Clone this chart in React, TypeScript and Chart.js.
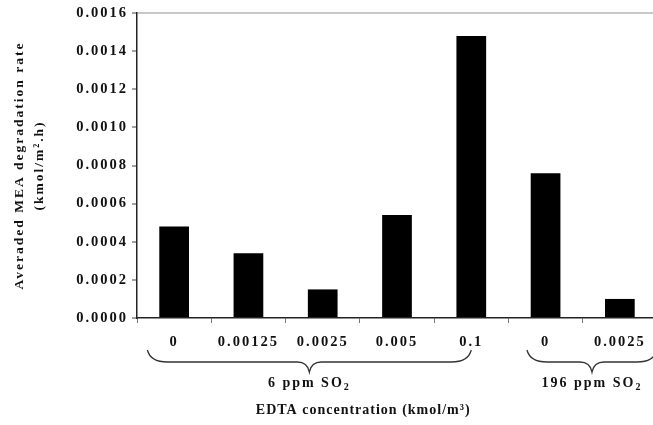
import React, { useEffect, useRef } from 'react';
import { Chart, registerables } from 'chart.js';

Chart.register(...registerables);

const categories = ['0', '0.00125', '0.0025', '0.005', '0.1', '0', '0.0025'];
const degradationRate = [0.00048, 0.00034, 0.00015, 0.00054, 0.00148, 0.00076, 0.0001];
const yTickValues = [0, 0.0002, 0.0004, 0.0006, 0.0008, 0.001, 0.0012, 0.0014, 0.0016];
const groupLabels = ['6 ppm SO', '196 ppm SO'];
const groupSubscripts = ['2', '2'];
const groupStart = [0, 5];
const groupEnd = [4, 6];
const yTitle = ['Averaded MEA degradation rate', '(kmol/m\u00b2.h)'];
const xTitle = 'EDTA concentration (kmol/m\u00b3)';

const FONT = "'Liberation Serif', 'Times New Roman', 'DejaVu Serif', serif";
const LS = '2px';
const TEXT = '#111';
const FS = 14;

// brace extents relative to category width (layout only)
const braceExt = [
  [0.36, 0.0],
  [0.25, 0.5],
];

function drawBrace(ctx: CanvasRenderingContext2D, x1: number, x2: number, yTop: number, yMid: number, yTip: number) {
  const r = 20;
  const tr = 12;
  const cx = (x1 + x2) / 2;
  ctx.beginPath();
  ctx.moveTo(x1, yTop);
  ctx.quadraticCurveTo(x1 + 3, yMid, x1 + r, yMid);
  ctx.lineTo(cx - tr, yMid);
  ctx.quadraticCurveTo(cx - 2, yMid, cx, yTip);
  ctx.quadraticCurveTo(cx + 2, yMid, cx + tr, yMid);
  ctx.lineTo(x2 - r, yMid);
  ctx.quadraticCurveTo(x2 - 3, yMid, x2, yTop);
  ctx.stroke();
}

function drawWithSubscript(ctx: CanvasRenderingContext2D, main: string, sub: string, cx: number, cy: number) {
  const mainFont = `bold ${FS}px ${FONT}`;
  const subFont = `bold ${FS - 4}px ${FONT}`;
  ctx.font = mainFont;
  const wm = ctx.measureText(main).width;
  ctx.font = subFont;
  const ws = ctx.measureText(sub).width;
  const left = cx - (wm + ws) / 2;
  ctx.textAlign = 'left';
  ctx.textBaseline = 'middle';
  ctx.font = mainFont;
  ctx.fillText(main, left, cy);
  ctx.font = subFont;
  ctx.fillText(sub, left + wm, cy + 4);
}

const annotationPlugin = {
  id: 'braceAnnotations',
  beforeLayout(chart: any) {
    chart.ctx.letterSpacing = LS;
  },
  beforeDraw(chart: any) {
    chart.ctx.letterSpacing = LS;
  },
  afterDraw(chart: any) {
    const { ctx, chartArea } = chart;
    const x = chart.scales.x;
    const w = x.width / categories.length;
    const bottom = chartArea.bottom;
    ctx.save();
    ctx.letterSpacing = LS;
    ctx.strokeStyle = '#333';
    ctx.lineWidth = 1.3;
    ctx.fillStyle = TEXT;
    groupLabels.forEach((label, i) => {
      const x1 = x.getPixelForValue(groupStart[i]) - w * braceExt[i][0];
      const x2 = x.getPixelForValue(groupEnd[i]) + w * braceExt[i][1];
      drawBrace(ctx, x1, x2, bottom + 32, bottom + 44, bottom + 54);
      drawWithSubscript(ctx, label, groupSubscripts[i], (x1 + x2) / 2, bottom + 65);
    });
    ctx.letterSpacing = '1px';
    ctx.font = `bold ${FS}px ${FONT}`;
    ctx.textAlign = 'center';
    ctx.textBaseline = 'middle';
    ctx.fillText(xTitle, chartArea.left + chartArea.width * 0.435, bottom + 92);
    ctx.restore();
  },
};

export default function App() {
  const ref = useRef<HTMLCanvasElement | null>(null);

  useEffect(() => {
    if (!ref.current) return;
    const chart = new Chart(ref.current, {
      type: 'bar',
      data: {
        labels: categories,
        datasets: [
          {
            data: degradationRate,
            backgroundColor: '#000',
            borderColor: '#222',
            borderWidth: 0,
            barPercentage: 0.4,
            categoryPercentage: 1,
          },
        ],
      },
      plugins: [annotationPlugin],
      options: {
        animation: false,
        responsive: true,
        maintainAspectRatio: false,
        layout: { padding: { left: 0, right: 3, top: 13, bottom: 0 } },
        plugins: {
          legend: { display: false },
          tooltip: { enabled: false },
        },
        scales: {
          x: {
            grid: {
              display: true,
              drawOnChartArea: false,
              offset: true,
              tickLength: 5,
              tickColor: '#777',
            },
            border: { display: true, color: '#222', width: 1.5 },
            ticks: {
              color: TEXT,
              font: { family: FONT, size: 14.5, weight: 'bold' },
              padding: 11,
              maxRotation: 0,
              autoSkip: false,
            },
            afterFit: (scale: any) => {
              scale.height = 107;
            },
          },
          y: {
            min: 0,
            max: 0.0016,
            afterBuildTicks: (scale: any) => {
              scale.ticks = yTickValues.map((v) => ({ value: v }));
            },
            grid: {
              drawOnChartArea: true,
              color: (c: any) => (c.tick && c.tick.value === 0.0016 ? '#c8c8c8' : 'rgba(0,0,0,0)'),
              lineWidth: 2,
              tickLength: 5,
              tickColor: '#444',
              tickWidth: 1,
            },
            border: { display: true, color: '#222', width: 1.5 },
            ticks: {
              color: TEXT,
              font: { family: FONT, size: 14.5, weight: 'bold' },
              padding: 4,
              callback: (v: any) => Number(v).toFixed(4),
            },
            title: {
              display: true,
              text: yTitle,
              color: TEXT,
              font: { family: FONT, size: 13.5, weight: 'bold', lineHeight: '20px' },
              padding: { top: 10, bottom: 0 },
            },
            afterFit: (scale: any) => {
              scale.width = 137;
            },
          },
        },
      },
    });
    return () => chart.destroy();
  }, []);

  return (
    <div
      style={{
        position: 'fixed',
        left: 0,
        top: 0,
        width: 653,
        height: 425,
        overflow: 'hidden',
        background: '#fff',
      }}
    >
      <div style={{ position: 'relative', width: 660, height: 425 }}>
        <canvas ref={ref} />
      </div>
    </div>
  );
}
